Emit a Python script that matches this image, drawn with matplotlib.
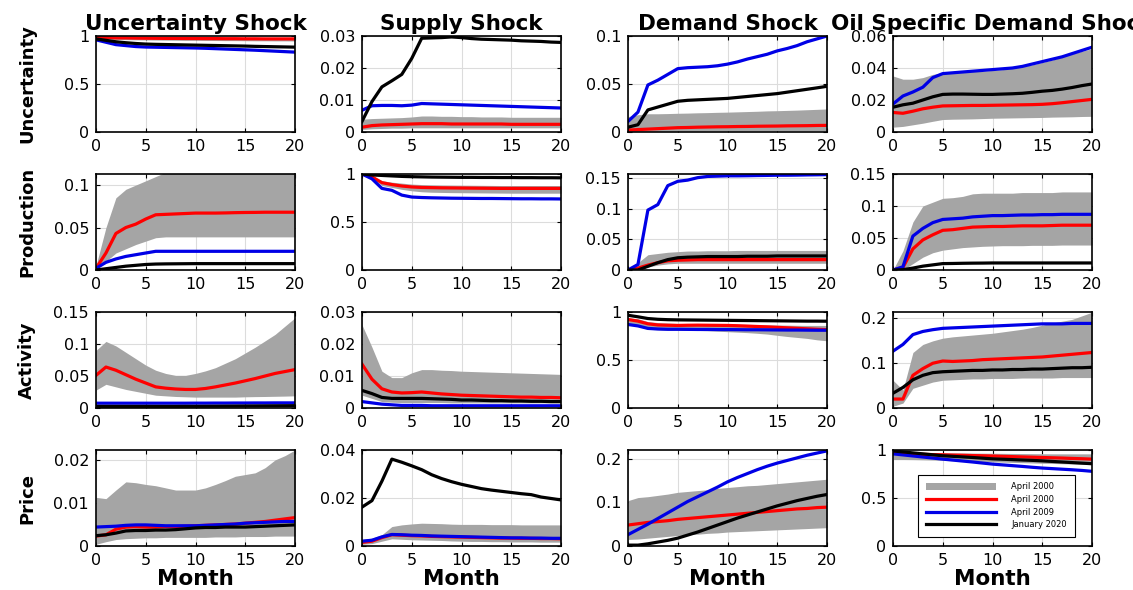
import matplotlib
matplotlib.use("Agg")
import matplotlib.pyplot as plt
from matplotlib.ticker import FuncFormatter
from matplotlib.patches import Patch
from matplotlib.lines import Line2D

months = list(range(21))
shocks = ["Uncertainty Shock", "Supply Shock", "Demand Shock", "Oil Specific Demand Shock"]
variables = ["Uncertainty", "Production", "Activity", "Price"]
legend_labels = ["April 2000", "April 2000", "April 2009", "January 2020"]

# ---------------- Row 1: Uncertainty ----------------
unc_unc_lo = [0.975, 0.97, 0.965, 0.962, 0.96, 0.959, 0.958, 0.957, 0.956, 0.955, 0.955, 0.954, 0.953, 0.952, 0.952, 0.951, 0.950, 0.950, 0.949, 0.949, 0.948]
unc_unc_hi = [1.0, 0.995, 0.992, 0.99, 0.989, 0.988, 0.987, 0.986, 0.986, 0.985, 0.985, 0.984, 0.984, 0.983, 0.983, 0.982, 0.982, 0.981, 0.981, 0.981, 0.980]
unc_unc_red = [0.99, 0.985, 0.98, 0.98, 0.978, 0.977, 0.976, 0.975, 0.975, 0.974, 0.974, 0.973, 0.973, 0.972, 0.972, 0.971, 0.971, 0.970, 0.970, 0.970, 0.970]
unc_unc_blue = [0.96, 0.935, 0.91, 0.90, 0.89, 0.885, 0.883, 0.881, 0.879, 0.877, 0.875, 0.872, 0.868, 0.864, 0.86, 0.856, 0.852, 0.847, 0.842, 0.837, 0.832]
unc_unc_black = [0.97, 0.955, 0.94, 0.93, 0.922, 0.916, 0.913, 0.911, 0.909, 0.907, 0.905, 0.903, 0.901, 0.899, 0.897, 0.895, 0.892, 0.890, 0.888, 0.886, 0.884]

unc_sup_lo = [0.0008, 0.001, 0.0011, 0.0012, 0.0012, 0.0013, 0.0013, 0.0013, 0.0013, 0.0013, 0.0013, 0.0013, 0.0013, 0.0013, 0.0013, 0.0013, 0.0013, 0.0013, 0.0013, 0.0013, 0.0013]
unc_sup_hi = [0.004, 0.0042, 0.0043, 0.0044, 0.0045, 0.0047, 0.005, 0.005, 0.0049, 0.0049, 0.0048, 0.0048, 0.0047, 0.0047, 0.0047, 0.0046, 0.0046, 0.0046, 0.0046, 0.0046, 0.0046]
unc_sup_red = [0.0015, 0.002, 0.0022, 0.0023, 0.0024, 0.0025, 0.0026, 0.0026, 0.0026, 0.0025, 0.0025, 0.0025, 0.0025, 0.0025, 0.0025, 0.0024, 0.0024, 0.0024, 0.0024, 0.0024, 0.0024]
unc_sup_blue = [0.0068, 0.0082, 0.0083, 0.0083, 0.0082, 0.0084, 0.0089, 0.0088, 0.0087, 0.0086, 0.0085, 0.0084, 0.0083, 0.0082, 0.0081, 0.008, 0.0079, 0.0078, 0.0077, 0.0076, 0.0075]
unc_sup_black = [0.0033, 0.0095, 0.0141, 0.016, 0.018, 0.023, 0.0293, 0.0294, 0.0295, 0.0297, 0.0295, 0.0292, 0.029, 0.0289, 0.0288, 0.0287, 0.0285, 0.0284, 0.0283, 0.0281, 0.028]

unc_dem_lo = [0.0003, 0.0005, 0.0006, 0.0007, 0.0008, 0.0008, 0.0009, 0.0009, 0.001, 0.001, 0.001, 0.001, 0.0011, 0.0011, 0.0011, 0.0012, 0.0012, 0.0012, 0.0012, 0.0013, 0.0013]
unc_dem_hi = [0.016, 0.018, 0.019, 0.019, 0.0192, 0.0195, 0.0197, 0.02, 0.0202, 0.0205, 0.0207, 0.021, 0.0213, 0.0216, 0.022, 0.0222, 0.0225, 0.0228, 0.0232, 0.0236, 0.024]
unc_dem_red = [0.002, 0.0025, 0.003, 0.0035, 0.004, 0.0045, 0.0047, 0.005, 0.0052, 0.0054, 0.0055, 0.0057, 0.0058, 0.006, 0.0061, 0.0062, 0.0064, 0.0065, 0.0066, 0.0068, 0.0069]
unc_dem_blue = [0.011, 0.0207, 0.049, 0.054, 0.06, 0.066, 0.067, 0.0675, 0.068, 0.069, 0.0707, 0.073, 0.076, 0.0785, 0.081, 0.0845, 0.087, 0.09, 0.094, 0.097, 0.1]
unc_dem_black = [0.005, 0.0076, 0.023, 0.026, 0.029, 0.032, 0.033, 0.0335, 0.034, 0.0345, 0.035, 0.036, 0.037, 0.038, 0.039, 0.04, 0.0415, 0.043, 0.0445, 0.046, 0.0476]

unc_oil_lo = [0.003, 0.0035, 0.0045, 0.0055, 0.0067, 0.0078, 0.008, 0.0081, 0.0082, 0.0084, 0.0086, 0.0087, 0.0088, 0.0089, 0.009, 0.0091, 0.0093, 0.0094, 0.0095, 0.0097, 0.0098]
unc_oil_hi = [0.035, 0.033, 0.033, 0.034, 0.036, 0.037, 0.0372, 0.0375, 0.0378, 0.038, 0.0385, 0.039, 0.040, 0.041, 0.042, 0.0435, 0.045, 0.047, 0.0488, 0.0505, 0.052]
unc_oil_red = [0.0122, 0.0117, 0.013, 0.0145, 0.0155, 0.0163, 0.0164, 0.0165, 0.0166, 0.0166, 0.0167, 0.0168, 0.0169, 0.017, 0.0171, 0.0173, 0.0177, 0.0183, 0.019, 0.0197, 0.0204]
unc_oil_blue = [0.0175, 0.0225, 0.025, 0.028, 0.034, 0.0365, 0.037, 0.0375, 0.038, 0.0385, 0.039, 0.0395, 0.040, 0.041, 0.0425, 0.044, 0.0455, 0.047, 0.049, 0.051, 0.053]
unc_oil_black = [0.0155, 0.017, 0.018, 0.02, 0.022, 0.0235, 0.0237, 0.0237, 0.0236, 0.0235, 0.0235, 0.0237, 0.0239, 0.0242, 0.0248, 0.0255, 0.026, 0.0268, 0.0278, 0.029, 0.030]

# ---------------- Row 2: Production ----------------
prd_unc_lo = [0.0, 0.01, 0.02, 0.025, 0.03, 0.034, 0.038, 0.039, 0.039, 0.039, 0.039, 0.039, 0.039, 0.039, 0.039, 0.039, 0.039, 0.039, 0.039, 0.039, 0.039]
prd_unc_hi = [0.005, 0.05, 0.085, 0.095, 0.1, 0.105, 0.11, 0.115, 0.12, 0.12, 0.12, 0.12, 0.12, 0.12, 0.12, 0.12, 0.12, 0.12, 0.12, 0.12, 0.12]
prd_unc_red = [0.002, 0.02, 0.043, 0.05, 0.054, 0.06, 0.065, 0.0655, 0.066, 0.0665, 0.067, 0.067, 0.067, 0.0672, 0.0675, 0.0677, 0.0678, 0.068, 0.068, 0.068, 0.068]
prd_unc_blue = [0.002, 0.009, 0.013, 0.016, 0.018, 0.02, 0.022, 0.022, 0.022, 0.022, 0.022, 0.022, 0.022, 0.022, 0.022, 0.022, 0.022, 0.022, 0.022, 0.022, 0.022]
prd_unc_black = [0.0, 0.0015, 0.003, 0.0045, 0.0055, 0.0065, 0.007, 0.0072, 0.0073, 0.0074, 0.0075, 0.0075, 0.0075, 0.0075, 0.0075, 0.0075, 0.0075, 0.0075, 0.0075, 0.0075, 0.0075]

prd_sup_lo = [1.0, 0.96, 0.88, 0.86, 0.84, 0.825, 0.815, 0.81, 0.808, 0.806, 0.805, 0.804, 0.803, 0.802, 0.801, 0.8, 0.8, 0.8, 0.8, 0.8, 0.8]
prd_sup_hi = [1.0, 0.98, 0.93, 0.915, 0.905, 0.895, 0.89, 0.888, 0.886, 0.885, 0.884, 0.883, 0.882, 0.881, 0.88, 0.88, 0.88, 0.88, 0.88, 0.88, 0.88]
prd_sup_red = [1.0, 0.97, 0.91, 0.89, 0.875, 0.865, 0.86, 0.858, 0.856, 0.855, 0.854, 0.853, 0.852, 0.851, 0.85, 0.85, 0.85, 0.85, 0.85, 0.85, 0.85]
prd_sup_blue = [1.0, 0.95, 0.85, 0.83, 0.78, 0.76, 0.755, 0.752, 0.75, 0.748, 0.747, 0.746, 0.745, 0.745, 0.744, 0.743, 0.742, 0.742, 0.741, 0.741, 0.74]
prd_sup_black = [1.0, 0.99, 0.985, 0.98, 0.975, 0.972, 0.97, 0.968, 0.967, 0.966, 0.965, 0.965, 0.964, 0.964, 0.963, 0.963, 0.962, 0.962, 0.961, 0.961, 0.96]

prd_dem_lo = [0.0, 0.002, 0.005, 0.008, 0.01, 0.011, 0.011, 0.011, 0.011, 0.011, 0.011, 0.011, 0.011, 0.011, 0.011, 0.011, 0.011, 0.011, 0.011, 0.011, 0.011]
prd_dem_hi = [0.0, 0.012, 0.025, 0.027, 0.029, 0.03, 0.031, 0.031, 0.0315, 0.0315, 0.0315, 0.032, 0.032, 0.032, 0.032, 0.032, 0.032, 0.032, 0.032, 0.032, 0.032]
prd_dem_red = [0.0, 0.003, 0.008, 0.012, 0.015, 0.016, 0.0165, 0.017, 0.017, 0.017, 0.017, 0.017, 0.017, 0.017, 0.017, 0.017, 0.017, 0.017, 0.017, 0.017, 0.017]
prd_dem_blue = [0.0, 0.009, 0.098, 0.107, 0.138, 0.145, 0.147, 0.151, 0.153, 0.1535, 0.154, 0.154, 0.1542, 0.1545, 0.1547, 0.155, 0.155, 0.1552, 0.1555, 0.1557, 0.156]
prd_dem_black = [0.0, 0.0, 0.006, 0.012, 0.017, 0.02, 0.021, 0.0215, 0.022, 0.022, 0.022, 0.022, 0.0225, 0.0225, 0.0225, 0.023, 0.023, 0.023, 0.023, 0.023, 0.023]

prd_oil_lo = [0.0, 0.0, 0.01, 0.02, 0.027, 0.031, 0.033, 0.035, 0.036, 0.037, 0.0375, 0.038, 0.038, 0.038, 0.0385, 0.0385, 0.0385, 0.039, 0.039, 0.039, 0.039]
prd_oil_hi = [0.0, 0.03, 0.075, 0.1, 0.106, 0.112, 0.113, 0.115, 0.119, 0.12, 0.12, 0.12, 0.12, 0.121, 0.121, 0.121, 0.121, 0.122, 0.122, 0.122, 0.122]
prd_oil_red = [0.0, 0.004, 0.033, 0.047, 0.055, 0.062, 0.063, 0.065, 0.067, 0.0675, 0.068, 0.068, 0.0685, 0.069, 0.069, 0.069, 0.0695, 0.07, 0.07, 0.07, 0.07]
prd_oil_blue = [0.0, 0.005, 0.053, 0.065, 0.074, 0.079, 0.08, 0.081, 0.083, 0.084, 0.085, 0.085, 0.0855, 0.086, 0.086, 0.0865, 0.0865, 0.087, 0.087, 0.087, 0.087]
prd_oil_black = [0.0, 0.0005, 0.003, 0.006, 0.008, 0.01, 0.0102, 0.0105, 0.0107, 0.0108, 0.011, 0.011, 0.011, 0.011, 0.011, 0.011, 0.011, 0.011, 0.011, 0.011, 0.011]

# ---------------- Row 3: Activity ----------------
act_unc_lo = [0.028, 0.037, 0.033, 0.029, 0.026, 0.023, 0.02, 0.019, 0.018, 0.0175, 0.017, 0.017, 0.017, 0.017, 0.017, 0.0175, 0.0178, 0.018, 0.0183, 0.0186, 0.019]
act_unc_hi = [0.09, 0.104, 0.097, 0.087, 0.077, 0.067, 0.059, 0.054, 0.051, 0.051, 0.054, 0.058, 0.063, 0.07, 0.077, 0.086, 0.095, 0.105, 0.115, 0.128, 0.141]
act_unc_red = [0.051, 0.064, 0.059, 0.052, 0.045, 0.039, 0.033, 0.031, 0.0297, 0.029, 0.029, 0.0305, 0.033, 0.036, 0.039, 0.0425, 0.046, 0.05, 0.054, 0.057, 0.06]
act_unc_blue = [0.0075, 0.0075, 0.0075, 0.0075, 0.0075, 0.0075, 0.0075, 0.0075, 0.0075, 0.0075, 0.0076, 0.0076, 0.0077, 0.0077, 0.0078, 0.0078, 0.0079, 0.0079, 0.008, 0.008, 0.008]
act_unc_black = [0.0025, 0.0025, 0.0025, 0.0025, 0.0025, 0.0025, 0.0025, 0.0025, 0.0025, 0.0026, 0.0026, 0.0027, 0.0028, 0.0029, 0.003, 0.0031, 0.0032, 0.0033, 0.0034, 0.0035, 0.0036]

act_sup_lo = [0.004, 0.003, 0.002, 0.0018, 0.0017, 0.0017, 0.0017, 0.0017, 0.0017, 0.0016, 0.0016, 0.0016, 0.0016, 0.0016, 0.0016, 0.0016, 0.0016, 0.0016, 0.0016, 0.0016, 0.0016]
act_sup_hi = [0.026, 0.019, 0.0115, 0.0095, 0.0095, 0.011, 0.012, 0.012, 0.0118, 0.0117, 0.0115, 0.0114, 0.0113, 0.0112, 0.0111, 0.011, 0.0109, 0.0108, 0.0107, 0.0106, 0.0105]
act_sup_red = [0.0137, 0.009, 0.006, 0.005, 0.0047, 0.0048, 0.005, 0.0047, 0.0044, 0.0042, 0.004, 0.0039, 0.0038, 0.0037, 0.0036, 0.0035, 0.0034, 0.0034, 0.0033, 0.0033, 0.0032]
act_sup_blue = [0.002, 0.0016, 0.0012, 0.001, 0.0008, 0.0008, 0.0008, 0.0007, 0.0007, 0.0007, 0.0007, 0.0007, 0.0007, 0.0007, 0.0007, 0.0007, 0.0007, 0.0007, 0.0007, 0.0007, 0.0007]
act_sup_black = [0.0055, 0.0045, 0.0033, 0.003, 0.003, 0.003, 0.003, 0.0029, 0.0028, 0.0027, 0.0025, 0.0025, 0.0024, 0.0023, 0.0023, 0.0022, 0.0022, 0.0021, 0.0021, 0.002, 0.002]

act_dem_lo = [0.87, 0.85, 0.82, 0.815, 0.81, 0.81, 0.81, 0.808, 0.805, 0.8, 0.795, 0.79, 0.785, 0.778, 0.77, 0.757, 0.745, 0.735, 0.725, 0.71, 0.70]
act_dem_hi = [0.94, 0.93, 0.9, 0.89, 0.885, 0.88, 0.88, 0.88, 0.878, 0.876, 0.875, 0.873, 0.871, 0.869, 0.867, 0.865, 0.863, 0.861, 0.86, 0.86, 0.86]
act_dem_red = [0.922, 0.905, 0.877, 0.865, 0.862, 0.86, 0.862, 0.863, 0.862, 0.861, 0.86, 0.857, 0.853, 0.849, 0.845, 0.84, 0.835, 0.83, 0.825, 0.82, 0.816]
act_dem_blue = [0.87, 0.855, 0.829, 0.823, 0.82, 0.82, 0.819, 0.818, 0.818, 0.817, 0.817, 0.816, 0.815, 0.815, 0.814, 0.813, 0.812, 0.812, 0.811, 0.81, 0.81]
act_dem_black = [0.966, 0.95, 0.932, 0.924, 0.92, 0.918, 0.917, 0.916, 0.915, 0.914, 0.913, 0.912, 0.911, 0.91, 0.909, 0.908, 0.907, 0.906, 0.905, 0.905, 0.904]

act_oil_lo = [0.004, 0.011, 0.044, 0.051, 0.058, 0.062, 0.063, 0.064, 0.065, 0.065, 0.066, 0.066, 0.066, 0.067, 0.067, 0.067, 0.067, 0.068, 0.068, 0.068, 0.068]
act_oil_hi = [0.062, 0.04, 0.124, 0.142, 0.15, 0.156, 0.159, 0.161, 0.163, 0.165, 0.167, 0.17, 0.173, 0.176, 0.18, 0.185, 0.19, 0.194, 0.198, 0.206, 0.214]
act_oil_red = [0.02, 0.02, 0.073, 0.088, 0.1, 0.105, 0.104, 0.105, 0.106, 0.108, 0.109, 0.11, 0.111, 0.112, 0.113, 0.114, 0.116, 0.118, 0.12, 0.122, 0.124]
act_oil_blue = [0.127, 0.142, 0.164, 0.171, 0.175, 0.178, 0.179, 0.18, 0.181, 0.182, 0.183, 0.184, 0.185, 0.186, 0.187, 0.188, 0.188, 0.188, 0.189, 0.189, 0.189]
act_oil_black = [0.033, 0.046, 0.063, 0.073, 0.079, 0.081, 0.082, 0.083, 0.084, 0.084, 0.085, 0.085, 0.086, 0.086, 0.087, 0.087, 0.088, 0.089, 0.09, 0.09, 0.091]

# ---------------- Row 4: Price ----------------
prc_unc_lo = [0.0004, 0.001, 0.0015, 0.0017, 0.0018, 0.0019, 0.0019, 0.002, 0.002, 0.002, 0.002, 0.002, 0.0021, 0.0021, 0.0021, 0.0022, 0.0022, 0.0022, 0.0023, 0.0023, 0.0023]
prc_unc_hi = [0.0113, 0.011, 0.013, 0.0149, 0.0147, 0.0143, 0.014, 0.0135, 0.013, 0.013, 0.013, 0.0135, 0.0143, 0.0152, 0.0162, 0.0166, 0.017, 0.0182, 0.02, 0.021, 0.0223]
prc_unc_red = [0.0023, 0.0026, 0.0039, 0.0044, 0.0045, 0.0044, 0.0044, 0.0045, 0.0045, 0.0046, 0.0047, 0.0048, 0.0049, 0.005, 0.0051, 0.0053, 0.0055, 0.0057, 0.006, 0.0063, 0.0066]
prc_unc_blue = [0.0044, 0.0045, 0.0046, 0.0048, 0.0049, 0.0049, 0.0048, 0.0047, 0.0047, 0.0047, 0.0047, 0.0048, 0.0049, 0.005, 0.0051, 0.0053, 0.0054, 0.0055, 0.0056, 0.0057, 0.0057]
prc_unc_black = [0.0024, 0.0026, 0.003, 0.0035, 0.0036, 0.0036, 0.0037, 0.0037, 0.0038, 0.004, 0.0042, 0.0043, 0.0043, 0.0044, 0.0044, 0.0044, 0.0045, 0.0046, 0.0047, 0.0048, 0.0049]

prc_sup_lo = [0.0007, 0.001, 0.002, 0.003, 0.0028, 0.0026, 0.0025, 0.0024, 0.0023, 0.0021, 0.002, 0.0019, 0.0019, 0.0018, 0.0018, 0.0017, 0.0017, 0.0017, 0.0016, 0.0016, 0.0016]
prc_sup_hi = [0.0027, 0.0033, 0.0047, 0.0081, 0.0088, 0.0092, 0.0095, 0.0094, 0.0093, 0.0091, 0.009, 0.009, 0.009, 0.0089, 0.0089, 0.0089, 0.0088, 0.0088, 0.0088, 0.0088, 0.0088]
prc_sup_red = [0.0015, 0.002, 0.0035, 0.0047, 0.0045, 0.0043, 0.0042, 0.004, 0.0039, 0.0038, 0.0037, 0.0036, 0.0035, 0.0034, 0.0033, 0.0033, 0.0032, 0.0032, 0.0031, 0.0031, 0.003]
prc_sup_blue = [0.002, 0.0024, 0.0038, 0.0048, 0.0047, 0.0045, 0.0044, 0.0042, 0.0041, 0.004, 0.0039, 0.0038, 0.0037, 0.0036, 0.0035, 0.0034, 0.0034, 0.0033, 0.0033, 0.0032, 0.0032]
prc_sup_black = [0.0162, 0.0189, 0.027, 0.0362, 0.0349, 0.0334, 0.0318, 0.0297, 0.0281, 0.0268, 0.0257, 0.0248, 0.0239, 0.0233, 0.0228, 0.0223, 0.0218, 0.0214, 0.0204, 0.0198, 0.0192]

prc_dem_lo = [0.015, 0.016, 0.018, 0.02, 0.022, 0.024, 0.026, 0.027, 0.029, 0.03, 0.032, 0.033, 0.034, 0.035, 0.036, 0.037, 0.038, 0.039, 0.04, 0.041, 0.042]
prc_dem_hi = [0.104, 0.111, 0.113, 0.116, 0.119, 0.123, 0.125, 0.127, 0.129, 0.132, 0.134, 0.136, 0.138, 0.139, 0.141, 0.143, 0.145, 0.147, 0.149, 0.151, 0.153]
prc_dem_red = [0.048, 0.051, 0.054, 0.056, 0.058, 0.061, 0.063, 0.065, 0.067, 0.069, 0.071, 0.073, 0.075, 0.077, 0.079, 0.081, 0.083, 0.085, 0.086, 0.088, 0.089]
prc_dem_blue = [0.026, 0.038, 0.05, 0.063, 0.076, 0.089, 0.102, 0.113, 0.124, 0.135, 0.147, 0.157, 0.166, 0.175, 0.183, 0.19, 0.196, 0.202, 0.208, 0.213, 0.218]
prc_dem_black = [0.002, 0.002, 0.005, 0.009, 0.013, 0.018, 0.025, 0.032, 0.04, 0.048, 0.056, 0.064, 0.071, 0.078, 0.085, 0.092, 0.098, 0.104, 0.109, 0.114, 0.118]

prc_oil_lo = [0.90, 0.9, 0.899, 0.897, 0.895, 0.892, 0.889, 0.886, 0.883, 0.88, 0.877, 0.874, 0.871, 0.868, 0.865, 0.862, 0.86, 0.857, 0.855, 0.852, 0.85]
prc_oil_hi = [0.975, 0.975, 0.974, 0.973, 0.972, 0.971, 0.97, 0.969, 0.968, 0.967, 0.966, 0.965, 0.964, 0.963, 0.962, 0.961, 0.96, 0.96, 0.96, 0.96, 0.96]
prc_oil_red = [0.966, 0.962, 0.958, 0.955, 0.952, 0.95, 0.947, 0.945, 0.942, 0.94, 0.937, 0.934, 0.931, 0.928, 0.925, 0.922, 0.919, 0.916, 0.912, 0.909, 0.905]
prc_oil_blue = [0.96, 0.949, 0.938, 0.927, 0.916, 0.905, 0.895, 0.885, 0.875, 0.864, 0.853, 0.845, 0.837, 0.829, 0.82, 0.812, 0.806, 0.8, 0.794, 0.787, 0.778]
prc_oil_black = [0.99, 0.98, 0.97, 0.96, 0.95, 0.94, 0.934, 0.928, 0.922, 0.915, 0.908, 0.904, 0.9, 0.896, 0.892, 0.887, 0.881, 0.875, 0.869, 0.863, 0.857]

ylims = [
    [1.0, 0.03, 0.1, 0.06],
    [0.113, 1.0, 0.157, 0.15],
    [0.15, 0.03, 1.0, 0.2145],
    [0.0223, 0.04, 0.22, 1.0],
]
yticks = [
    [[0, 0.5, 1], [0, 0.01, 0.02, 0.03], [0, 0.05, 0.1], [0, 0.02, 0.04, 0.06]],
    [[0, 0.05, 0.1], [0, 0.5, 1], [0, 0.05, 0.1, 0.15], [0, 0.05, 0.1, 0.15]],
    [[0, 0.05, 0.1, 0.15], [0, 0.01, 0.02, 0.03], [0, 0.5, 1], [0, 0.1, 0.2]],
    [[0, 0.01, 0.02], [0, 0.02, 0.04], [0, 0.1, 0.2], [0, 0.5, 1]],
]

panels = [
    [(unc_unc_lo, unc_unc_hi, unc_unc_red, unc_unc_blue, unc_unc_black),
     (unc_sup_lo, unc_sup_hi, unc_sup_red, unc_sup_blue, unc_sup_black),
     (unc_dem_lo, unc_dem_hi, unc_dem_red, unc_dem_blue, unc_dem_black),
     (unc_oil_lo, unc_oil_hi, unc_oil_red, unc_oil_blue, unc_oil_black)],
    [(prd_unc_lo, prd_unc_hi, prd_unc_red, prd_unc_blue, prd_unc_black),
     (prd_sup_lo, prd_sup_hi, prd_sup_red, prd_sup_blue, prd_sup_black),
     (prd_dem_lo, prd_dem_hi, prd_dem_red, prd_dem_blue, prd_dem_black),
     (prd_oil_lo, prd_oil_hi, prd_oil_red, prd_oil_blue, prd_oil_black)],
    [(act_unc_lo, act_unc_hi, act_unc_red, act_unc_blue, act_unc_black),
     (act_sup_lo, act_sup_hi, act_sup_red, act_sup_blue, act_sup_black),
     (act_dem_lo, act_dem_hi, act_dem_red, act_dem_blue, act_dem_black),
     (act_oil_lo, act_oil_hi, act_oil_red, act_oil_blue, act_oil_black)],
    [(prc_unc_lo, prc_unc_hi, prc_unc_red, prc_unc_blue, prc_unc_black),
     (prc_sup_lo, prc_sup_hi, prc_sup_red, prc_sup_blue, prc_sup_black),
     (prc_dem_lo, prc_dem_hi, prc_dem_red, prc_dem_blue, prc_dem_black),
     (prc_oil_lo, prc_oil_hi, prc_oil_red, prc_oil_blue, prc_oil_black)],
]

BAND = "#a5a5a5"
RED = "#ff0000"
BLUE = "#0000e6"
BLACK = "#000000"

W, H = 1133, 590
fig = plt.figure(figsize=(W / 100, H / 100), dpi=100)
col_left = [96, 362, 628, 893]
row_top = [36, 174, 312, 450]
aw, ah = 199, 96

fmt = FuncFormatter(lambda v, p: f"{v:g}")

for r in range(4):
    for c in range(4):
        ax = fig.add_axes([col_left[c] / W, 1 - (row_top[r] + ah) / H, aw / W, ah / H])
        lo, hi, red, blue, black = panels[r][c]
        ax.fill_between(months, lo, hi, color=BAND, lw=0, zorder=1)
        ax.plot(months, red, color=RED, lw=2.3, zorder=3)
        ax.plot(months, blue, color=BLUE, lw=2.3, zorder=3)
        ax.plot(months, black, color=BLACK, lw=2.3, zorder=3)
        ax.set_xlim(0, 20)
        ax.set_ylim(0, ylims[r][c])
        ax.set_xticks([0, 5, 10, 15, 20])
        ax.set_yticks(yticks[r][c])
        ax.yaxis.set_major_formatter(fmt)
        ax.grid(True, color="#dcdcdc", lw=0.8, zorder=0)
        ax.set_axisbelow(True)
        ax.tick_params(direction="in", length=3, width=0.8, top=True, right=True,
                       labelsize=11.5, pad=5, colors="black")
        for s in ax.spines.values():
            s.set_linewidth(1.2)
            s.set_zorder(5)
        if r == 0:
            ax.set_title(shocks[c], fontsize=15.5, fontweight="bold", pad=4)
        if c == 0:
            ax.set_ylabel(variables[r], fontsize=13, fontweight="bold")
            ax.yaxis.set_label_coords(-0.3, 0.5)
        if r == 3:
            ax.set_xlabel("Month", fontsize=15.5, fontweight="bold", labelpad=1)
        if r == 3 and c == 3:
            handles = [Patch(facecolor=BAND, edgecolor="none"),
                       Line2D([], [], color=RED, lw=2.3),
                       Line2D([], [], color=BLUE, lw=2.3),
                       Line2D([], [], color=BLACK, lw=2.3)]
            ax.legend(handles, legend_labels, loc="lower left",
                      bbox_to_anchor=(0.126, 0.094), borderaxespad=0,
                      fontsize=6, handlelength=8.5, handleheight=0.9,
                      handletextpad=1.8, borderpad=0.9, labelspacing=0.45,
                      fancybox=False, framealpha=1, edgecolor="black")
            ax.get_legend().get_frame().set_linewidth(0.8)

fig.savefig("out.png", dpi=100)
